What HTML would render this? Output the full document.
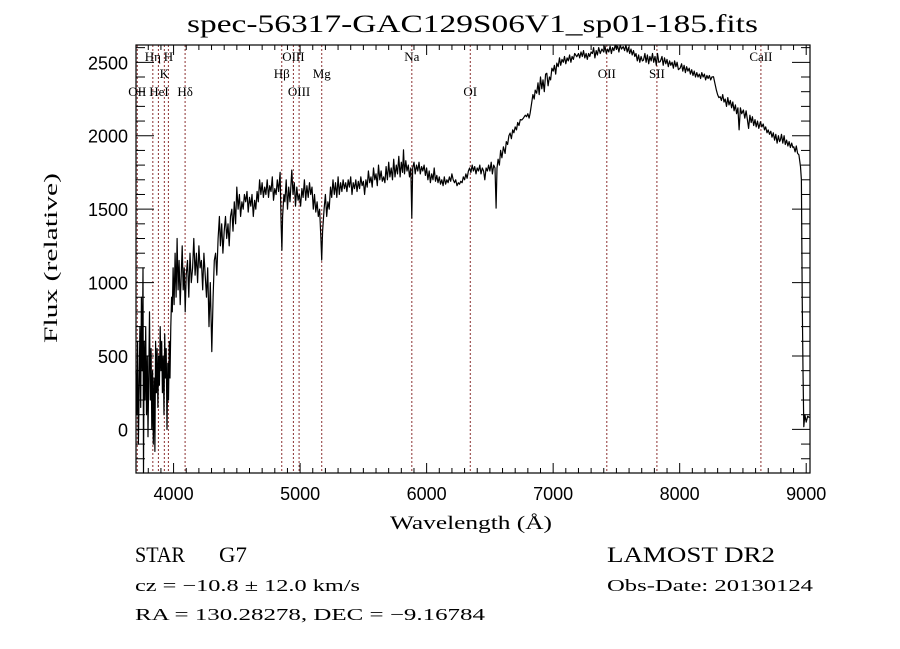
<!DOCTYPE html>
<html><head><meta charset="utf-8"><style>
body{margin:0;background:#fff;}
svg{display:block;}
text{fill:#000;}
</style></head><body>
<svg id="chart" width="900" height="649" viewBox="0 0 900 649" xmlns="http://www.w3.org/2000/svg">
<rect x="0" y="0" width="900" height="649" fill="#fff"/>
<text x="187" y="32" font-family="Liberation Serif, serif" font-size="25" textLength="571" lengthAdjust="spacingAndGlyphs">spec-56317-GAC129S06V1_sp01-185.fits</text>
<g id="lines"></g>
<g id="ticks"></g>
<path id="spec" fill="none" stroke="#000" stroke-width="1.2" stroke-linejoin="round"/>
<rect x="136" y="45" width="674" height="428" fill="none" stroke="#000" stroke-width="1.2"/>
<text x="471" y="529" text-anchor="middle" font-family="Liberation Serif, serif" font-size="19" textLength="162" lengthAdjust="spacingAndGlyphs">Wavelength (Å)</text>
<text transform="translate(57,258) rotate(-90)" text-anchor="middle" font-family="Liberation Serif, serif" font-size="19" textLength="170" lengthAdjust="spacingAndGlyphs">Flux (relative)</text>
<text x="135" y="562" font-family="Liberation Serif, serif" font-size="22" textLength="50" lengthAdjust="spacingAndGlyphs">STAR</text>
<text x="219" y="562" font-family="Liberation Serif, serif" font-size="22" textLength="28" lengthAdjust="spacingAndGlyphs">G7</text>
<text x="607" y="562" font-family="Liberation Serif, serif" font-size="22" textLength="168" lengthAdjust="spacingAndGlyphs">LAMOST DR2</text>
<text x="135" y="591" font-family="Liberation Serif, serif" font-size="17" textLength="225" lengthAdjust="spacingAndGlyphs">cz = −10.8 ± 12.0 km/s</text>
<text x="607" y="591" font-family="Liberation Serif, serif" font-size="17" textLength="206" lengthAdjust="spacingAndGlyphs">Obs-Date: 20130124</text>
<text x="135" y="620" font-family="Liberation Serif, serif" font-size="17" textLength="350" lengthAdjust="spacingAndGlyphs">RA = 130.28278, DEC =  −9.16784</text>
</svg>
<script>
const wavelength=[3703,3710,3716,3722,3728,3734,3740,3746,3752,3758,3762,3768,3774,3780,3786,3792,3798,3804,3810,3816,3822,3828,3834,3840,3846,3852,3858,3864,3870,3876,3882,3888,3894,3900,3906,3912,3918,3924,3930,3936,3942,3948,3954,3960,3966,3972,3978,3984,3990,3996,4004,4012,4020,4028,4036,4044,4052,4060,4068,4076,4084,4092,4100,4110,4120,4130,4140,4150,4160,4170,4180,4190,4200,4210,4220,4230,4240,4250,4260,4270,4280,4290,4302,4312,4322,4332,4342,4352,4362,4370,4380,4390,4400,4410,4420,4430,4440,4450,4460,4470,4480,4490,4500,4510,4520,4530,4540,4550,4560,4570,4580,4590,4600,4610,4620,4630,4640,4650,4660,4670,4680,4690,4700,4710,4720,4730,4740,4750,4760,4770,4780,4790,4800,4810,4820,4830,4842,4850,4856,4862,4872,4880,4890,4900,4910,4920,4934,4944,4954,4964,4974,4984,4994,5004,5014,5024,5034,5044,5054,5064,5074,5084,5094,5104,5114,5124,5134,5144,5154,5164,5171,5178,5190,5200,5210,5220,5230,5240,5250,5260,5270,5280,5290,5300,5310,5320,5330,5340,5350,5360,5370,5380,5390,5400,5410,5420,5430,5440,5450,5460,5470,5480,5490,5500,5510,5520,5530,5540,5550,5560,5570,5580,5590,5600,5610,5620,5630,5640,5650,5660,5670,5680,5690,5700,5710,5720,5730,5740,5750,5760,5770,5780,5790,5800,5810,5817,5825,5835,5845,5855,5865,5875,5883,5890,5900,5910,5920,5930,5940,5950,5960,5970,5980,5990,6000,6010,6020,6030,6040,6050,6060,6070,6080,6090,6100,6110,6120,6130,6140,6150,6160,6170,6180,6190,6200,6210,6220,6230,6240,6250,6260,6270,6280,6290,6300,6310,6320,6330,6340,6350,6360,6370,6380,6390,6400,6410,6420,6430,6440,6450,6460,6470,6480,6490,6500,6510,6520,6530,6540,6549,6556,6565,6575,6585,6595,6607,6620,6630,6640,6650,6660,6670,6680,6690,6700,6710,6720,6730,6740,6752,6765,6780,6790,6800,6810,6818,6830,6840,6850,6858,6870,6880,6890,6900,6910,6920,6930,6940,6950,6960,6970,6980,6990,7000,7010,7020,7029,7040,7050,7060,7070,7080,7090,7100,7110,7120,7130,7140,7150,7160,7170,7187,7200,7210,7220,7230,7240,7250,7260,7270,7280,7290,7300,7310,7320,7330,7340,7350,7360,7372,7385,7400,7410,7420,7430,7440,7450,7460,7470,7480,7490,7500,7510,7520,7530,7540,7554,7565,7575,7585,7595,7605,7615,7625,7635,7645,7655,7665,7675,7685,7695,7705,7714,7725,7735,7745,7755,7765,7775,7785,7795,7805,7815,7825,7835,7846,7860,7870,7880,7890,7900,7910,7920,7930,7940,7950,7960,7970,7980,7990,8004,8015,8025,8035,8045,8055,8065,8075,8085,8095,8105,8115,8125,8135,8145,8155,8165,8175,8185,8195,8205,8215,8225,8235,8245,8255,8267,8280,8290,8300,8310,8320,8330,8340,8350,8360,8370,8380,8390,8400,8410,8420,8430,8440,8450,8460,8470,8480,8490,8504,8515,8525,8535,8545,8555,8565,8575,8585,8595,8605,8615,8625,8638,8650,8660,8670,8680,8690,8700,8710,8720,8730,8740,8750,8760,8770,8780,8790,8796,8805,8815,8825,8835,8845,8855,8865,8875,8885,8895,8902,8912,8922,8932,8942,8950,8955,8962,8968,8975,8981,8990,9000,9012,9025];
const flux=[400,100,600,-100,300,700,150,900,400,1100,-300,600,200,700,100,500,-50,400,800,200,550,0,400,-100,350,-150,600,250,550,150,500,300,700,400,600,250,500,100,650,350,550,0,450,200,600,350,700,900,800,1100,850,1200,900,1300,950,1150,850,1050,1250,950,1100,800,1050,1150,900,1200,1000,1100,1300,1050,1200,1000,1250,1100,1150,950,1200,1050,900,1100,700,1000,530,900,1150,1200,1050,1300,1450,1250,1400,1200,1350,1450,1300,1400,1250,1450,1500,1350,1550,1400,1650,1500,1600,1450,1550,1500,1600,1550,1620,1480,1580,1520,1600,1450,1560,1500,1620,1550,1700,1600,1680,1580,1650,1600,1700,1580,1660,1620,1720,1560,1640,1600,1700,1620,1750,1400,1220,1450,1600,1550,1700,1500,1650,1550,1766,1600,1680,1520,1650,1560,1600,1520,1640,1580,1700,1560,1660,1580,1680,1600,1650,1500,1600,1480,1550,1450,1500,1300,1153,1350,1500,1600,1450,1550,1500,1650,1580,1700,1600,1680,1580,1720,1600,1680,1620,1700,1640,1680,1620,1700,1650,1720,1600,1680,1640,1700,1620,1690,1640,1720,1660,1690,1600,1700,1650,1760,1680,1720,1650,1780,1700,1740,1660,1800,1700,1760,1690,1720,1680,1790,1700,1820,1720,1780,1700,1840,1720,1800,1740,1860,1720,1820,1750,1904,1740,1830,1760,1800,1720,1780,1440,1780,1820,1740,1800,1760,1820,1740,1790,1760,1800,1730,1780,1700,1760,1680,1740,1700,1780,1690,1730,1680,1720,1670,1700,1660,1720,1670,1700,1680,1720,1690,1740,1700,1680,1700,1660,1680,1670,1690,1680,1720,1700,1740,1710,1760,1780,1750,1800,1760,1790,1740,1780,1760,1800,1740,1780,1760,1700,1780,1760,1800,1760,1820,1740,1800,1780,1507,1780,1840,1800,1900,1850,1925,1880,1960,1940,2000,2018,1980,2040,2020,2060,2040,2090,2070,2110,2107,2120,2140,2130,2150,2120,2152,2220,2280,2250,2311,2290,2360,2280,2400,2320,2380,2300,2420,2426,2340,2400,2380,2460,2440,2480,2420,2495,2470,2530,2480,2520,2500,2540,2490,2530,2510,2550,2500,2540,2520,2560,2538,2560,2530,2570,2540,2580,2530,2560,2520,2560,2540,2570,2560,2600,2530,2580,2550,2600,2560,2590,2570,2610,2560,2590,2570,2610,2560,2600,2580,2620,2590,2610,2570,2620,2590,2607,2580,2620,2570,2600,2560,2590,2550,2580,2540,2560,2510,2550,2500,2540,2510,2515,2560,2500,2550,2490,2540,2510,2560,2500,2540,2480,2560,2500,2504,2540,2480,2530,2490,2520,2470,2510,2480,2500,2460,2510,2470,2500,2450,2461,2490,2440,2480,2430,2470,2440,2460,2420,2450,2410,2440,2400,2430,2400,2420,2390,2430,2400,2420,2380,2410,2390,2410,2380,2400,2402,2350,2310,2280,2260,2266,2240,2280,2230,2250,2200,2260,2210,2240,2190,2230,2170,2210,2150,2190,2040,2190,2150,2175,2120,2170,2110,2050,2140,2090,2130,2070,2110,2060,2100,2050,2095,2060,2080,2040,2060,2020,2040,2010,2030,1990,2020,1970,2010,1950,2000,1960,1971,2010,1950,2000,1940,1970,1930,1960,1920,1950,1920,1925,1890,1930,1880,1870,1820,1789,1700,903,400,18,100,50,90,80];
const lineWl=[3713,3836,3880,3927,3959,4091,4855,4947,4992,5171,5883,6345,7424,7820,8642];
const lineLabels=[["OII",3713,3],["Hη",3836,1],["HeI",3885,3],["K",3927,2],["H",3959,1],["Hδ",4091,3],["Hβ",4855,2],["OIII",4947,1],["OIII",4992,3],["Mg",5171,2],["Na",5883,1],["OI",6345,3],["OII",7424,2],["SII",7820,2],["CaII",8642,1]];
const xTicks=[4000,5000,6000,7000,8000,9000];
const yTicks=[0,500,1000,1500,2000,2500];
const X0=136,X1=810,Y0=45,Y1=473,XMIN=3703,XMAX=9030,YMIN=-297,YMAX=2618;
function xs(w){return X0+(w-XMIN)/(XMAX-XMIN)*(X1-X0);}
function ys(f){return Y1-(f-YMIN)/(YMAX-YMIN)*(Y1-Y0);}
const NS="http://www.w3.org/2000/svg";
function mk(tag,attrs,parent){const e=document.createElementNS(NS,tag);for(const k in attrs)e.setAttribute(k,attrs[k]);parent.appendChild(e);return e;}
const svg=document.getElementById('chart');
const lg=document.getElementById('lines');
lineWl.forEach(w=>{
 const l=mk('line',{x1:xs(w),x2:xs(w),y1:Y0,y2:Y1,stroke:'#8b3030','stroke-width':1,'stroke-dasharray':'2,2'},lg);
 
 
});
const rowY={1:61,2:78,3:96};
lineLabels.forEach(d=>{
 const t=mk('text',{x:xs(d[1]),y:rowY[d[2]],'text-anchor':'middle','font-family':'Liberation Serif, serif','font-size':13},lg);
 t.textContent=d[0];
 
 
});
let d='';
for(let i=0;i<wavelength.length;i++){d+=(i?'L':'M')+xs(wavelength[i]).toFixed(1)+','+Math.max(Y0,Math.min(Y1,ys(flux[i]))).toFixed(1);}
document.getElementById('spec').setAttribute('d',d);
const tg=document.getElementById('ticks');
for(let w=3800;w<=9000;w+=100){
 const major=w%1000===0,len=major?10:5,x=xs(w);
 mk('line',{x1:x,x2:x,y1:Y1,y2:Y1-len,stroke:'#000','stroke-width':1},tg);
 mk('line',{x1:x,x2:x,y1:Y0,y2:Y0+len,stroke:'#000','stroke-width':1},tg);
}
for(let f=-200;f<=2600;f+=100){
 const major=f%500===0,len=major?18:9,y=ys(f);
 mk('line',{x1:X0,x2:X0+len,y1:y,y2:y,stroke:'#000','stroke-width':1},tg);
 mk('line',{x1:X1,x2:X1-len,y1:y,y2:y,stroke:'#000','stroke-width':1},tg);
}
xTicks.forEach(w=>{
 const t=mk('text',{x:xs(w),y:500,'text-anchor':'middle','font-family':'Liberation Sans, sans-serif','font-size':18},svg);
 t.textContent=w;
 
 
});
yTicks.forEach(f=>{
 const t=mk('text',{x:128,y:ys(f)+7,'text-anchor':'end','font-family':'Liberation Sans, sans-serif','font-size':18},svg);
 t.textContent=f;
 
 
});
</script>
</body></html>
